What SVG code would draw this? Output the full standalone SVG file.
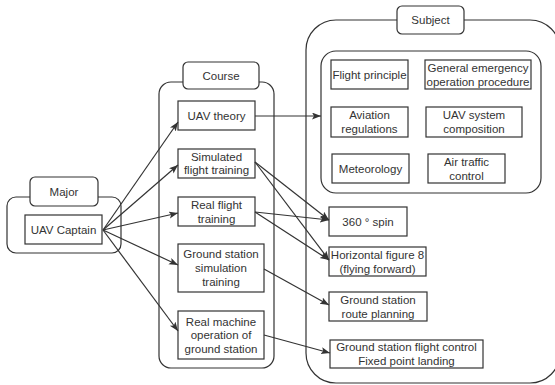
<svg xmlns="http://www.w3.org/2000/svg" width="555" height="385" viewBox="0 0 555 385">
  <style>
    .box { fill: #ffffff; stroke: #333333; stroke-width: 1.2; }
    .frame { fill: none; stroke: #333333; stroke-width: 1.2; }
    .tab { fill: #ffffff; stroke: #333333; stroke-width: 1.2; }
    .lbl { font-family: "Liberation Sans", Arial, sans-serif; font-size: 11.5px; fill: #333333; text-anchor: middle; dominant-baseline: central; }
    .edge { fill: none; stroke: #333333; stroke-width: 1.2; marker-end: url(#arrow); }
  </style>
  <defs>
    <marker id="arrow" markerUnits="userSpaceOnUse" markerWidth="10" markerHeight="8" refX="9" refY="3.5" orient="auto">
      <path d="M0,0 L9,3.5 L0,7 L2,3.5 z" fill="#333333"/>
    </marker>
  </defs>
  <rect width="555" height="385" fill="#ffffff"/>

  <!-- Major container -->
  <g id="major">
    <rect class="frame" x="7" y="197" width="114" height="56" rx="9"/>
    <rect class="tab" x="30" y="177" width="68" height="29" rx="5"/>
    <text class="lbl" x="64" y="192">Major</text>
  </g>
  <g id="uav-captain">
    <rect class="box" x="25" y="215" width="77" height="29"/>
    <text class="lbl" x="63.5" y="230">UAV Captain</text>
  </g>

  <!-- Course container -->
  <g id="course">
    <rect class="frame" x="159" y="82" width="115" height="286" rx="12"/>
    <rect class="tab" x="183" y="62" width="76" height="27" rx="5"/>
    <text class="lbl" x="221" y="76">Course</text>
  </g>
  <g id="uav-theory">
    <rect class="box" x="178" y="101" width="77" height="29"/>
    <text class="lbl" x="216.5" y="116">UAV theory</text>
  </g>
  <g id="simulated-flight">
    <rect class="box" x="178" y="149" width="77" height="29"/>
    <text class="lbl" x="216.5" y="156.5">Simulated</text>
    <text class="lbl" x="216.5" y="170">flight training</text>
  </g>
  <g id="real-flight">
    <rect class="box" x="178" y="197" width="77" height="29"/>
    <text class="lbl" x="216.5" y="204.5">Real flight</text>
    <text class="lbl" x="216.5" y="218.5">training</text>
  </g>
  <g id="gs-simulation">
    <rect class="box" x="178" y="244" width="86" height="48"/>
    <text class="lbl" x="221" y="253.5">Ground station</text>
    <text class="lbl" x="221" y="267.5">simulation</text>
    <text class="lbl" x="221" y="281.5">training</text>
  </g>
  <g id="real-machine">
    <rect class="box" x="178" y="311" width="86" height="48"/>
    <text class="lbl" x="221" y="321.5">Real machine</text>
    <text class="lbl" x="221" y="335">operation of</text>
    <text class="lbl" x="221" y="348.5">ground station</text>
  </g>

  <!-- Subject container -->
  <g id="subject">
    <rect class="frame" x="306" y="20" width="254" height="363" rx="30"/>
    <rect class="tab" x="397" y="6" width="67" height="28" rx="5"/>
    <text class="lbl" x="430.5" y="20">Subject</text>
  </g>
  <g id="subject-core">
    <rect class="frame" x="321" y="51" width="220" height="142" rx="15"/>
  </g>
  <g id="flight-principle">
    <rect class="box" x="331" y="60" width="77" height="29"/>
    <text class="lbl" x="369.5" y="75">Flight principle</text>
  </g>
  <g id="emergency-procedure">
    <rect class="box" x="425" y="60" width="106" height="29"/>
    <text class="lbl" x="478" y="67.5">General emergency</text>
    <text class="lbl" x="478" y="81.5">operation procedure</text>
  </g>
  <g id="aviation-regulations">
    <rect class="box" x="331" y="107" width="77" height="30"/>
    <text class="lbl" x="369.5" y="115">Aviation</text>
    <text class="lbl" x="369.5" y="129">regulations</text>
  </g>
  <g id="uav-system">
    <rect class="box" x="426" y="107" width="96" height="30"/>
    <text class="lbl" x="474" y="115">UAV system</text>
    <text class="lbl" x="474" y="129">composition</text>
  </g>
  <g id="meteorology">
    <rect class="box" x="332" y="154" width="77" height="29"/>
    <text class="lbl" x="370.5" y="169">Meteorology</text>
  </g>
  <g id="air-traffic-control">
    <rect class="box" x="428" y="154" width="77" height="29"/>
    <text class="lbl" x="466.5" y="161.5">Air traffic</text>
    <text class="lbl" x="466.5" y="175.5">control</text>
  </g>
  <g id="spin-360">
    <rect class="box" x="329" y="207" width="78" height="29"/>
    <text class="lbl" x="368" y="221.5">360 ° spin</text>
  </g>
  <g id="figure-8">
    <rect class="box" x="329" y="247" width="97" height="29"/>
    <text class="lbl" x="377.5" y="254.5">Horizontal figure 8</text>
    <text class="lbl" x="377.5" y="268.5">(flying forward)</text>
  </g>
  <g id="route-planning">
    <rect class="box" x="329" y="292" width="98" height="29"/>
    <text class="lbl" x="378" y="299.5">Ground station</text>
    <text class="lbl" x="378" y="313.5">route planning</text>
  </g>
  <g id="flight-control-landing">
    <rect class="box" x="330" y="340" width="153" height="28"/>
    <text class="lbl" x="406.5" y="346.5">Ground station flight control</text>
    <text class="lbl" x="406.5" y="361">Fixed point landing</text>
  </g>

  <!-- Connectors -->
  <g id="connectors">
    <path class="edge" d="M103,230 L178,122"/>
    <path class="edge" d="M103,230 L178,165"/>
    <path class="edge" d="M103,230 L178,213"/>
    <path class="edge" d="M103,230 L178,265"/>
    <path class="edge" d="M103,230 L178,331"/>
    <path class="edge" d="M255,116 L321,116"/>
    <path class="edge" d="M255,162 L329,220"/>
    <path class="edge" d="M255,162 L329,260"/>
    <path class="edge" d="M255,212 L329,220"/>
    <path class="edge" d="M255,212 L329,260"/>
    <path class="edge" d="M264,269 L329,305"/>
    <path class="edge" d="M264,335 L330,353"/>
  </g>
</svg>
